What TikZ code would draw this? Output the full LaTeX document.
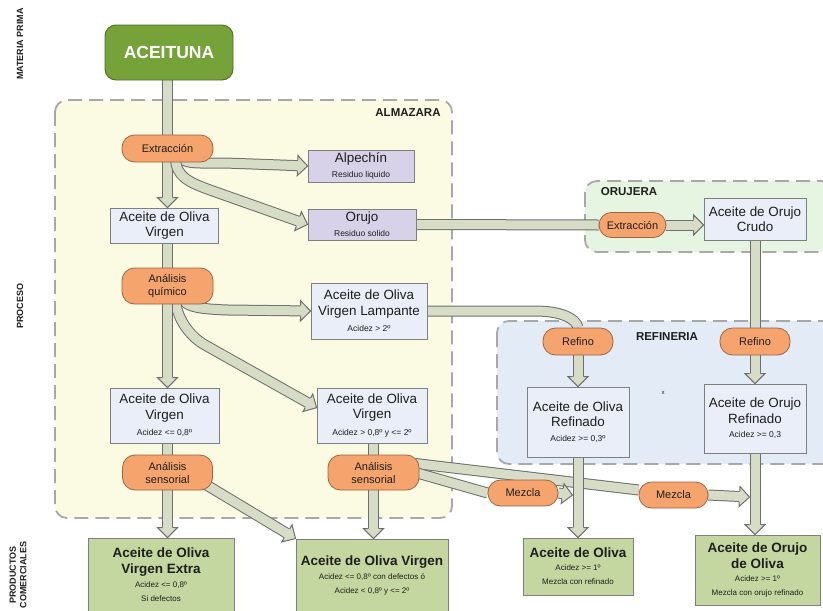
\documentclass[tikz,border=0pt]{standalone}
\usepackage{fontspec}
\setmainfont{Liberation Sans}
\usetikzlibrary{calc,decorations.markings}
\definecolor{boxline}{HTML}{7F7F7F}
\definecolor{bluefill}{HTML}{E9EEF8}
\definecolor{lavfill}{HTML}{D8D2E8}
\definecolor{greenfill}{HTML}{C4D7A0}
\definecolor{orangefill}{HTML}{F6A46E}
\definecolor{orangeline}{HTML}{9C6443}
\definecolor{olivefill}{HTML}{76A23A}
\definecolor{oliveline}{HTML}{4E6B26}
\definecolor{arrowfill}{HTML}{D7DCC7}
\definecolor{arrowline}{HTML}{6E6E6E}
\definecolor{dashc}{HTML}{A8A8A8}
\definecolor{almfill}{HTML}{FBFBE3}
\definecolor{orufill}{HTML}{E6F5E1}
\definecolor{reffill}{HTML}{E3EBF7}
\definecolor{textc}{HTML}{1E1E1E}

\pgfdeclarelayer{regions}
\pgfdeclarelayer{arrowlayer}
\pgfsetlayers{regions,arrowlayer,main}

\newcommand\sml{\fontsize{8.5}{10}\selectfont}
\newcommand\ttl{\bfseries\fontsize{13.5}{16}\selectfont}
\newcommand\headshape{%
 \fill[arrowfill] (-10pt,-10pt) -- (0pt,0pt) -- (-10pt,10pt) -- cycle;
 \draw[arrowline,line width=1pt,line join=miter] (-10pt,-5.5pt) -- (-10pt,-10pt) -- (0pt,0pt) -- (-10pt,10pt) -- (-10pt,5.5pt);}
\newcommand\fatshaft[1]{\draw[shaftout] #1; \draw[shaftin] #1;}
\newcommand\fatarrow[1]{%
 \draw[shaftout,shorten >=9pt] #1;
 \draw[shaftin,shorten >=9pt] #1;
 \path[decorate,decoration={markings,mark=at position 1 with {\headshape}}] #1;}

\tikzset{
 shaftout/.style={draw=arrowline, line width=11pt},
 shaftin/.style={draw=arrowfill, line width=9pt},
 wh/.style 2 args={minimum width=#1pt, minimum height=#2pt},
 box/.style={draw=boxline, line width=0.8pt, align=center, inner sep=0pt, text=textc},
 bluebox/.style={box, fill=bluefill, font=\fontsize{13.4}{15.5}\selectfont},
 lavbox/.style={box, fill=lavfill, font=\fontsize{13.4}{15}\selectfont},
 prodbox/.style={box, fill=greenfill, font=\fontsize{8}{14}\selectfont},
 pill/.style={draw=orangeline, fill=orangefill, line width=0.8pt, rounded corners=12.5pt, align=center, inner sep=0pt, text=textc, font=\fontsize{11}{13}\selectfont},
 olivebox/.style={draw=oliveline, fill=olivefill, line width=0.9pt, rounded corners=11pt, inner sep=0pt, text=white, font=\bfseries\fontsize{17.5}{20}\selectfont},
 region/.style={draw=dashc, line width=1.8pt, dash pattern=on 14pt off 7pt, rounded corners=12pt},
 regionlabel/.style={font=\bfseries\fontsize{11.5}{13}\selectfont, text=textc},
 sidelabel/.style={rotate=90, font=\bfseries\fontsize{9}{10.5}\selectfont, align=center, text=textc}
}

\begin{document}
\begin{tikzpicture}[x=1pt,y=-1pt]
\useasboundingbox (0,0) rectangle (823,611);

% side labels
\node[sidelabel] (lmat) at (20,44) {MATERIA PRIMA};
\node[sidelabel] (lpro) at (20,306) {PROCESO};
\node[sidelabel] (lprod) at (18,575) {PRODUCTOS\\COMERCIALES};

% region labels
\node[regionlabel] (almlab) at (408,113) {ALMAZARA};
\node[regionlabel] (orulab) at (629,192) {ORUJERA};
\node[regionlabel] (reflab) at (667,337) {REFINERIA};
\node[font=\fontsize{6}{7}\selectfont, text=textc] (xmark) at (663,393) {x};

% nodes
\node[olivebox, wh={128}{55}] (acei) at (169,52.5) {ACEITUNA};
\node[pill, wh={91}{27}] (ext) at (167.5,148.5) {Extracción};
\node[lavbox, wh={106}{32}] (alp) at (361,166) {Alpechín\\{\sml Residuo liquido}};
\node[bluebox, wh={108}{35}] (aov1) at (164.5,225.5) {Aceite de Oliva\\Virgen};
\node[lavbox, wh={108}{31}] (oru) at (362,224.5) {Orujo\\{\sml Residuo solido}};
\node[pill, wh={91}{36}] (quim) at (167.5,286) {Análisis\\químico};
\node[bluebox, wh={116}{56}] (lamp) at (369,311) {Aceite de Oliva\\Virgen Lampante\\[1pt]{\sml Acidez > 2º}};
\node[bluebox, wh={109}{55}] (aov08) at (164.5,415.5) {Aceite de Oliva\\Virgen\\[1pt]{\sml Acidez <= 0,8º}};
\node[bluebox, wh={110}{55}] (aov2) at (372,415.5) {Aceite de Oliva\\Virgen\\[1pt]{\sml Acidez > 0,8º y <= 2º}};
\node[pill, wh={90}{35}] (sens1) at (167.5,472.5) {Análisis\\sensorial};
\node[pill, wh={91}{35}] (sens2) at (373.5,472.5) {Análisis\\sensorial};

\node[pill, wh={67}{25}] (ext2) at (632.5,225) {Extracción};
\node[bluebox, wh={102}{42}] (crudo) at (755,219) {Aceite de Orujo\\Crudo};
\node[pill, wh={70}{27}] (ref1) at (578,341.5) {Refino};
\node[pill, wh={70}{27}] (ref2) at (755,341.5) {Refino};
\node[bluebox, wh={102}{70}] (aor) at (578,422) {Aceite de Oliva\\Refinado\\[-1pt]{\sml Acidez >= 0,3º}};
\node[bluebox, wh={102}{69}] (aorr) at (755,418.5) {Aceite de Orujo\\Refinado\\[-1pt]{\sml Acidez >= 0,3}};
\node[pill, wh={70}{26}] (mez1) at (523,493) {Mezcla};
\node[pill, wh={69}{26}] (mez2) at (673.5,495) {Mezcla};

\node[prodbox, wh={146}{74}] (aove) at (161,575) {{\ttl Aceite de Oliva}\\[2pt]{\ttl Virgen Extra}\\Acidez <= 0,8º\\Si defectos};
\node[prodbox, wh={152}{73}] (aovp) at (372,575.5) {{\ttl Aceite de Oliva Virgen}\\Acidez <= 0,8º con defectos ó\\Acidez < 0,8º y <= 2º};
\node[prodbox, wh={110}{57}] (aop) at (578,566.5) {{\ttl Aceite de Oliva}\\[-1pt]Acidez >= 1º\\Mezcla con refinado};
\node[prodbox, wh={125}{70}] (aoop) at (757.5,570) {{\ttl Aceite de Orujo}\\[2pt]{\ttl de Oliva}\\[-1pt]Acidez >= 1º\\Mezcla con orujo refinado};

\coordinate (j1) at (572.5,495);
\coordinate (j2) at (749.5,497);

\begin{pgfonlayer}{regions}
\fill[white] (0,0) rectangle (823,611);
\draw[region, fill=almfill] (55,100) rectangle (452,518);
\draw[region, fill=orufill] (585,181) rectangle (840,252);
\draw[region, fill=reffill] (497,321) rectangle (840,464);
\end{pgfonlayer}

\begin{pgfonlayer}{arrowlayer}
\fatshaft{(ext.north |- acei.south) -- (ext.north)}
\fatarrow{(ext.south) -- (ext.south |- aov1.north)}
\fatarrow{($(ext.south)+(14,-4)$) .. controls (186,164) and (200,163) .. (225,163) -- (alp.west)}
\fatarrow{($(ext.south)+(8,-4)$) .. controls (176,176) and (188,182) .. (210,190) -- (oru.west)}
\fatshaft{(oru.east) -- (ext2.west)}
\fatarrow{(ext2.east) -- (ext2.east -| crudo.west)}
\fatshaft{(crudo.south) -- (ref2.north)}
\fatarrow{(ref2.south) -- (aorr.north)}
\fatshaft{(quim.north |- aov1.south) -- (quim.north)}
\fatarrow{($(quim.south)+(16,-4)$) .. controls (188,307) and (200,309) .. (228,310) -- (lamp.west)}
\fatarrow{($(quim.south)+(8,-4)$) .. controls (177,318) and (189,336) .. (205,345) -- ($(aov2.north west)!0.36!(aov2.south west)$)}
\fatarrow{(quim.south) -- (quim.south |- aov08.north)}
\fatshaft{(lamp.east) -- (535,311) .. controls (560,311) and (576,318) .. (ref1.north)}
\fatarrow{(ref1.south) -- (aor.north)}
\fatshaft{(sens1.north |- aov08.south) -- (sens1.north)}
\fatshaft{(sens2.north |- aov2.south) -- (sens2.north)}
\fatarrow{(sens1.south) -- (sens1.south |- aove.north)}
\fatarrow{($(sens1.south east)+(-14,-10)$) -- (aovp.north west)}
\fatarrow{(sens2.south) -- (sens2.south |- aovp.north)}
\fatshaft{($(sens2.east)+(-4,-9)$) -- ($(mez2.west)+(0,-5)$)}
\fatshaft{($(sens2.east)+(-4,0)$) -- (mez1.west)}
\fatarrow{(mez1.east) -- (j1)}
\fatarrow{(mez2.east) -- (j2)}
\fatarrow{(aor.south) -- (aor.south |- aop.north)}
\fatarrow{(aorr.south) -- (aorr.south |- aoop.north)}
\end{pgfonlayer}
\end{tikzpicture}
\end{document}
